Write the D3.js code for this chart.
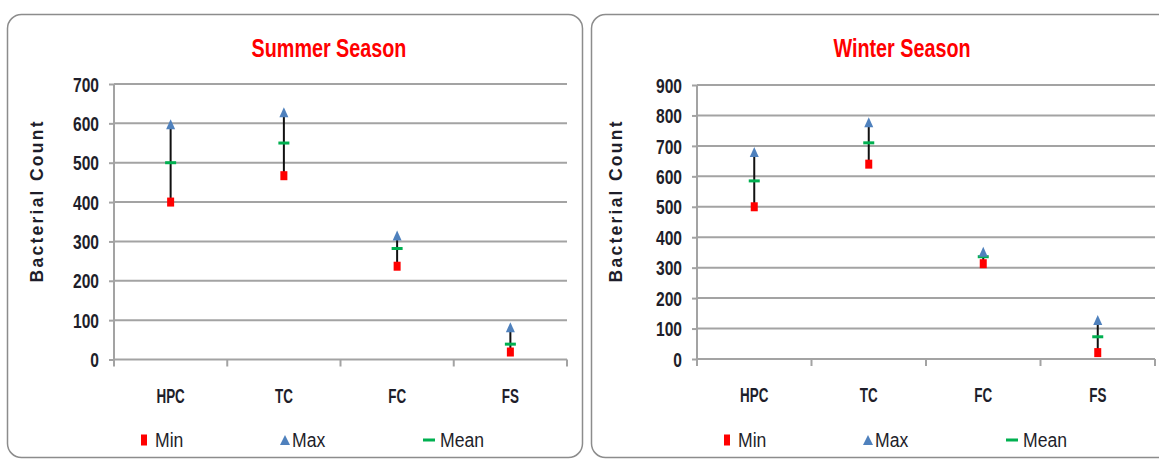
<!DOCTYPE html>
<html>
<head>
<meta charset="utf-8">
<script src="https://cdn.jsdelivr.net/npm/d3@7"></script>
<style>
  body { margin: 0; background: #fff; }
  svg { display: block; }
</style>
</head>
<body>
<div id="graph"></div>
<script>
// data
var categories = ["HPC", "TC", "FC", "FS"];

var summerMin  = [400, 467, 237, 19];
var summerMax  = [598, 628, 315, 82];
var summerMean = [500, 550, 282, 39];
var summerTicks = [0, 100, 200, 300, 400, 500, 600, 700];

var winterMin  = [500, 640, 313, 21];
var winterMax  = [680, 778, 352, 128];
var winterMean = [585, 710, 336, 73];
var winterTicks = [0, 100, 200, 300, 400, 500, 600, 700, 800, 900];

var legendNames = ["Min", "Max", "Mean"];

var W = 1159, H = 459;
var gridColor = "#a3a3a3",
    textColor = "#1e1e2a",
    minColor = "#ff0000",
    maxColor = "#4f81bd",
    meanColor = "#00b050";

var svg = d3.select("#graph").append("svg")
    .attr("width", W)
    .attr("height", H);

// squeeze text horizontally, like the narrow font of the original
function squeeze(sel, k, mode) {
    sel.each(function() {
        var w = this.getComputedTextLength();
        d3.select(this)
            .attr("textLength", w * k)
            .attr("lengthAdjust", mode || "spacingAndGlyphs");
    });
}

var panels = [
    { title: "Summer Season", mins: summerMin, maxs: summerMax, means: summerMean, ticks: summerTicks,
      box: [7, 14, 575, 443], plot: [114, 567, 84, 359.5], titleX: 329, labelX: 37 },
    { title: "Winter Season", mins: winterMin, maxs: winterMax, means: winterMean, ticks: winterTicks,
      box: [591, 14, 585, 443], plot: [697, 1155, 85, 359], titleX: 902, labelX: 616 }
];

panels.forEach(drawPanel);

function drawPanel(p) {
    var g = svg.append("g");

    // frame
    g.append("rect")
        .attr("x", p.box[0] + 0.5)
        .attr("y", p.box[1] + 0.5)
        .attr("width", p.box[2])
        .attr("height", p.box[3])
        .attr("rx", 14)
        .style("fill", "#fff")
        .style("stroke", "#8c8c8c")
        .style("stroke-width", 1.5);

    var x = d3.scaleBand().domain(categories).range([p.plot[0], p.plot[1]]).padding(0);
    var y = d3.scaleLinear().domain([0, d3.max(p.ticks)]).range([p.plot[3], p.plot[2]]);

    // title
    var title = g.append("text")
        .attr("x", p.titleX)
        .attr("y", 57)
        .style("text-anchor", "middle")
        .style("font-family", "Liberation Sans, Arial, sans-serif")
        .style("font-size", "26px")
        .style("font-weight", "bold")
        .style("fill", "#ff0000")
        .text(p.title);
    squeeze(title, 0.76);

    // horizontal grid
    g.selectAll("line.grid")
        .data(p.ticks)
        .enter().append("line")
        .attr("class", "grid")
        .attr("x1", p.plot[0])
        .attr("x2", p.plot[1])
        .attr("y1", function(d) { return y(d); })
        .attr("y2", function(d) { return y(d); })
        .style("stroke", gridColor)
        .style("stroke-width", 2);

    // y axis
    var yAxis = d3.axisLeft(y)
        .tickValues(p.ticks)
        .tickSizeInner(5)
        .tickSizeOuter(0)
        .tickPadding(10);
    var ya = g.append("g")
        .attr("transform", "translate(" + p.plot[0] + ",0)")
        .call(yAxis)
        .call(function(a) { a.select(".domain").remove(); });
    ya.selectAll(".tick line").style("stroke", gridColor).style("stroke-width", 2);
    ya.selectAll(".tick text")
        .attr("dy", "0.36em")
        .style("font-family", "Liberation Sans, Arial, sans-serif")
        .style("font-size", "20px")
        .style("font-weight", "bold")
        .style("fill", textColor);
    squeeze(ya.selectAll(".tick text"), 0.78);

    g.append("line")
        .attr("x1", p.plot[0]).attr("x2", p.plot[0])
        .attr("y1", y.range()[1]).attr("y2", y.range()[0] + 6)
        .style("stroke", gridColor)
        .style("stroke-width", 2);

    // x axis ticks at the category boundaries
    var bounds = categories.map(function(c) { return x(c); }).concat([p.plot[1]]);
    g.selectAll("line.xtick")
        .data(bounds)
        .enter().append("line")
        .attr("class", "xtick")
        .attr("x1", function(d) { return d; })
        .attr("x2", function(d) { return d; })
        .attr("y1", y(0))
        .attr("y2", y(0) + 7)
        .style("stroke", gridColor)
        .style("stroke-width", 2);

    var xAxis = d3.axisBottom(x).tickSize(0).tickPadding(0);
    var xa = g.append("g")
        .attr("transform", "translate(0," + y(0) + ")")
        .call(xAxis)
        .call(function(a) { a.select(".domain").remove(); });
    xa.selectAll(".tick text")
        .attr("y", 43)
        .attr("dy", 0)
        .style("font-family", "Liberation Sans, Arial, sans-serif")
        .style("font-size", "21px")
        .style("font-weight", "bold")
        .style("fill", textColor);
    squeeze(xa.selectAll(".tick text"), 0.64);

    // y axis title
    var yl = g.append("text")
        .attr("transform", "translate(" + p.labelX + "," + 202 + ") rotate(-90)")
        .attr("dy", "0.35em")
        .style("text-anchor", "middle")
        .style("font-family", "Liberation Sans, Arial, sans-serif")
        .style("font-size", "17.5px")
        .style("font-weight", "bold")
        .style("fill", textColor)
        .text("Bacterial Count");
    yl.attr("textLength", 161).attr("lengthAdjust", "spacing");

    var cx = function(i) { return x(categories[i]) + x.bandwidth() / 2; };
    var idx = d3.range(categories.length);

    // range lines
    g.selectAll("line.range")
        .data(idx)
        .enter().append("line")
        .attr("class", "range")
        .attr("x1", cx).attr("x2", cx)
        .attr("y1", function(i) { return y(p.mins[i]); })
        .attr("y2", function(i) { return y(p.maxs[i]); })
        .style("stroke", "#111")
        .style("stroke-width", 2);

    // min squares
    g.selectAll("rect.min")
        .data(idx)
        .enter().append("rect")
        .attr("class", "min")
        .attr("x", function(i) { return cx(i) - 3.5; })
        .attr("y", function(i) { return y(p.mins[i]) - 4.5; })
        .attr("width", 7)
        .attr("height", 9)
        .style("fill", minColor);

    // mean dashes
    g.selectAll("rect.mean")
        .data(idx)
        .enter().append("rect")
        .attr("class", "mean")
        .attr("x", function(i) { return cx(i) - 5.5; })
        .attr("y", function(i) { return y(p.means[i]) - 1.5; })
        .attr("width", 11)
        .attr("height", 3)
        .style("fill", meanColor);

    // max triangles
    g.selectAll("path.max")
        .data(idx)
        .enter().append("path")
        .attr("class", "max")
        .attr("d", function(i) {
            var px = cx(i), py = y(p.maxs[i]);
            return "M" + (px - 4.5) + "," + (py + 5) + "L" + px + "," + (py - 5) + "L" + (px + 4.5) + "," + (py + 5) + "Z";
        })
        .style("fill", maxColor);

    // legend
    var lx = [p.plot[0] + 30, p.plot[0] + 171, p.plot[0] + 315];
    var ly = 440;
    g.append("rect")
        .attr("x", lx[0] - 3).attr("y", ly - 5.5)
        .attr("width", 6).attr("height", 11)
        .style("fill", minColor);
    g.append("path")
        .attr("d", "M" + (lx[1] - 5) + "," + (ly + 5) + "L" + lx[1] + "," + (ly - 5) + "L" + (lx[1] + 5) + "," + (ly + 5) + "Z")
        .style("fill", maxColor);
    g.append("rect")
        .attr("x", lx[2] - 6).attr("y", ly - 1.5)
        .attr("width", 12).attr("height", 3)
        .style("fill", meanColor);

    var offs = [11, 7, 11];
    var lt = g.selectAll("text.legend")
        .data(legendNames)
        .enter().append("text")
        .attr("class", "legend")
        .attr("x", function(d, i) { return lx[i] + offs[i]; })
        .attr("y", ly + 7)
        .style("font-family", "Liberation Sans, Arial, sans-serif")
        .style("font-size", "20px")
        .style("fill", textColor)
        .text(function(d) { return d; });
    squeeze(lt, 0.88);
}
</script>
</body>
</html>
